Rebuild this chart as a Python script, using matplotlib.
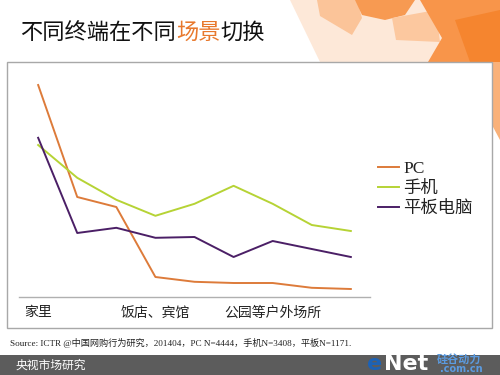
"""Slide chart: 不同终端在不同场景切换 (line chart by device and location)."""

import matplotlib

matplotlib.use("Agg")
import matplotlib.pyplot as plt  # noqa: E402
from matplotlib.patches import Polygon, Rectangle  # noqa: E402

plt.rcParams["font.family"] = ["Noto Sans CJK SC", "DejaVu Sans"]

W, H = 500, 375

categories = ["家里", "", "", "饭店、宾馆", "", "", "公园等户外场所", "", ""]
series_names = ["PC", "手机", "平板电脑"]
pc = [53, 25, 22.5, 5, 3.8, 3.5, 3.5, 2.3, 2]
phone = [38, 29.8, 24.3, 20.3, 23.3, 27.8, 23.3, 18, 16.5]
tablet = [39.8, 16, 17.3, 14.8, 15, 10, 14, 12, 10]
colors = ["#dd7b3a", "#b6d335", "#4b1f66"]

source = "Source: ICTR @中国网购行为研究，201404，PC N=4444，手机N=3408，平板N=1171."


def fx(x):
    return x / W


def fy(y):
    return 1 - y / H


def poly(fig, pts, color, alpha=1.0):
    fig.patches.append(Polygon([(fx(x), fy(y)) for x, y in pts], closed=True,
                               transform=fig.transFigure, facecolor=color,
                               edgecolor="none", alpha=alpha, zorder=-3))


fig = plt.figure(figsize=(W / 100, H / 100), dpi=100)

# orange decoration at the top right
poly(fig, [(290, 0), (500, 0), (500, 62), (320, 62)], "#fde8d8")
poly(fig, [(317, 0), (357, 0), (362, 18), (352, 35), (320, 16)], "#fbc499")
poly(fig, [(355, 0), (415, 0), (405, 15), (385, 20), (362, 15)], "#f79a52")
poly(fig, [(392, 18), (436, 10), (440, 42), (396, 40)], "#fcc89f")
poly(fig, [(420, 0), (500, 0), (500, 62), (428, 62), (442, 38)], "#f8954a")
poly(fig, [(455, 20), (500, 10), (500, 62), (470, 62)], "#f5852f")
poly(fig, [(488, 62), (500, 62), (500, 140), (492, 125)], "#f9b179")

# chart frame
fig.patches.append(Rectangle((fx(7), fy(328)), (492 - 7) / W, (328 - 62) / H,
                             transform=fig.transFigure, facecolor="white",
                             edgecolor="#a8a8a8", lw=1, zorder=-2))

ax = fig.add_axes([fx(19), fy(297), (370 - 19) / W, (297 - 75) / H])
ax.set_facecolor("none")

# title, pieces chained so they sit right after each other
prev = fig.text(fx(20), fy(32), "不同终端在不同", fontsize=16, color="#111111",
                va="center", ha="left")
for txt, col in [("场景", "#e8782c"), ("切换", "#111111")]:
    prev = ax.annotate(txt, xy=(1, 0.5), xycoords=prev, fontsize=16, color=col,
                       va="center", ha="left", annotation_clip=False)

x = range(len(categories))
for name, vals, c in zip(series_names, [pc, phone, tablet], colors):
    ax.plot(x, vals, color=c, lw=1.4, label=name)

ax.set_xlim(-0.49, 8.49)
ax.set_ylim(0, 55.5)
ticks = [i for i, c in enumerate(categories) if c]
ax.set_xticks(ticks)
ax.set_xticklabels([categories[i] for i in ticks], fontsize=10, color="#222222")
ax.tick_params(axis="x", length=0, pad=6)
ax.set_yticks([])
for s in ["top", "right", "left"]:
    ax.spines[s].set_visible(False)
ax.spines["bottom"].set_color("#b0b0b0")
ax.spines["bottom"].set_linewidth(1)

leg = ax.legend(loc="upper left", bbox_to_anchor=(fx(378), fy(161)),
                bbox_transform=fig.transFigure, frameon=False, fontsize=12.5,
                borderpad=0, borderaxespad=0, handlelength=1.2,
                handletextpad=0.25, labelspacing=0.1)
for t in leg.get_texts():
    t.set_color("#222222")
leg.get_texts()[0].set_family(["Liberation Serif", "Noto Sans CJK SC"])

# source line
fig.text(fx(10), fy(343), source, fontsize=6.6, color="#222222", va="center",
         family=["Liberation Serif", "Noto Sans CJK SC"])

# footer bar
fig.patches.append(Rectangle((0, 0), 1, (375 - 355) / H, transform=fig.transFigure,
                             facecolor="#5c5c5c", edgecolor="none", zorder=-2))
fig.text(fx(15), fy(365), "央视市场研究", fontsize=8.5, color="white", va="center",
         style="italic")
fig.text(fx(367), fy(364), "e", fontsize=16, color="#1d62b5", weight="bold",
         va="center", family="DejaVu Sans")
fig.text(fx(384), fy(364), "Net", fontsize=16, color="white", weight="bold",
         va="center", family="DejaVu Sans")
fig.text(fx(437), fy(359), "硅谷动力", fontsize=8, color="#5b9be0", weight="bold",
         va="center")
fig.text(fx(440), fy(369), ".com.cn", fontsize=7, color="#5b9be0", weight="bold",
         va="center", family="DejaVu Sans")

fig.savefig("out.png", dpi=100)
plt.close(fig)
